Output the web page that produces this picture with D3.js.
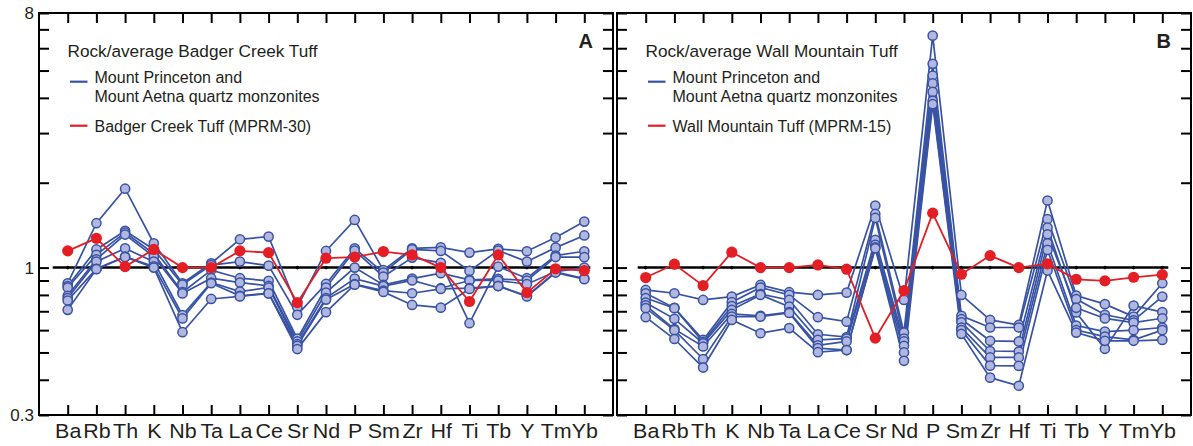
<!DOCTYPE html>
<html>
<head>
<meta charset="utf-8">
<script src="https://cdn.jsdelivr.net/npm/d3@7"></script>
<style>
  body { margin: 0; background: #fff; }
  svg { display: block; font-family: "Liberation Sans", Arial, Helvetica, sans-serif; }
</style>
</head>
<body>
<div id="chart"></div>
<script>
// Elementos del diagrama (eje X)
const elements = ["Ba", "Rb", "Th", "K", "Nb", "Ta", "La", "Ce", "Sr", "Nd", "P", "Sm", "Zr", "Hf", "Ti", "Tb", "Y", "Tm", "Yb"];

// Marcas del eje Y (logarítmico) y las que llevan etiqueta
const yTicks = [0.3, 0.4, 0.5, 0.6, 0.7, 0.8, 0.9, 1, 2, 3, 4, 5, 6, 7, 8];
const yLabels = [0.3, 1, 8];

// Panel A: monzonitas / Badger Creek Tuff
const blueA = [
  [0.88, 1.437, 1.905, 1.22, 0.88, 1.036, 1.26, 1.288, 0.724, 1.146, 1.476, 0.98, 1.17, 1.18, 1.13, 1.165, 1.143, 1.278, 1.456],
  [0.86, 1.16, 1.35, 1.16, 0.87, 1.02, 1.05, 1.016, 0.68, 0.875, 1.17, 0.96, 1.16, 1.146, 0.973, 1.15, 1.05, 1.177, 1.30],
  [0.85, 1.11, 1.33, 1.12, 0.818, 0.98, 0.917, 0.897, 0.56, 0.85, 1.15, 0.929, 1.085, 1.04, 0.635, 1.008, 0.917, 1.103, 1.143],
  [0.794, 1.07, 1.31, 1.094, 0.81, 0.917, 0.885, 0.861, 0.547, 0.815, 1.0, 0.868, 0.914, 0.955, 0.905, 0.912, 0.9, 1.09, 1.089],
  [0.78, 1.05, 1.17, 1.05, 0.678, 0.885, 0.822, 0.85, 0.535, 0.779, 0.914, 0.86, 0.9, 0.845, 0.9, 0.9, 0.873, 0.968, 1.0],
  [0.764, 0.99, 1.094, 1.01, 0.66, 0.88, 0.794, 0.811, 0.528, 0.77, 0.873, 0.829, 0.811, 0.84, 0.845, 0.861, 0.794, 0.965, 0.914],
  [0.708, 0.987, 1.09, 1.0, 0.59, 0.774, 0.79, 0.81, 0.514, 0.695, 0.87, 0.82, 0.737, 0.721, 0.84, 0.86, 0.79, 0.96, 0.91]
];
const redA = [1.146, 1.27, 1.008, 1.16, 1.0, 1.0, 1.146, 1.13, 0.751, 1.08, 1.089, 1.14, 1.109, 1.0, 0.758, 1.109, 0.815, 0.99, 0.976];

// Panel B: monzonitas / Wall Mountain Tuff
const blueB = [
  [0.833, 0.811, 0.768, 0.789, 0.868, 0.818, 0.80, 0.815, 1.66, 0.768, 6.65, 0.80, 0.652, 0.626, 1.73, 0.796, 0.742, 0.67, 0.88],
  [0.811, 0.72, 0.554, 0.754, 0.85, 0.80, 0.667, 0.643, 1.55, 0.588, 5.28, 0.674, 0.613, 0.613, 1.485, 0.773, 0.68, 0.65, 0.789],
  [0.78, 0.718, 0.545, 0.73, 0.806, 0.768, 0.58, 0.567, 1.50, 0.56, 4.8, 0.656, 0.55, 0.547, 1.386, 0.693, 0.515, 0.733, 0.695],
  [0.751, 0.658, 0.539, 0.708, 0.80, 0.727, 0.554, 0.56, 1.254, 0.547, 4.5, 0.64, 0.506, 0.504, 1.313, 0.72, 0.66, 0.638, 0.661],
  [0.735, 0.605, 0.525, 0.685, 0.674, 0.695, 0.53, 0.547, 1.204, 0.528, 4.2, 0.613, 0.48, 0.48, 1.22, 0.623, 0.593, 0.6, 0.613],
  [0.718, 0.60, 0.474, 0.67, 0.67, 0.69, 0.518, 0.51, 1.18, 0.5, 3.9, 0.6, 0.449, 0.448, 1.155, 0.6, 0.569, 0.554, 0.6],
  [0.667, 0.558, 0.442, 0.652, 0.585, 0.61, 0.501, 0.51, 1.17, 0.467, 3.8, 0.582, 0.407, 0.381, 0.976, 0.588, 0.55, 0.55, 0.554]
];
const redB = [0.922, 1.028, 0.863, 1.134, 1.0, 1.0, 1.022, 0.987, 0.562, 0.829, 1.56, 0.947, 1.103, 1.0, 1.031, 0.909, 0.897, 0.924, 0.944];

// Textos de cada panel
const panelLetters = ["A", "B"];
const panelTitles = ["Rock/average Badger Creek Tuff", "Rock/average Wall Mountain Tuff"];
const blueLegend = ["Mount Princeton and", "Mount Aetna quartz monzonites"];
const redLegends = ["Badger Creek Tuff (MPRM-30)", "Wall Mountain Tuff (MPRM-15)"];

// Dimensiones
const width = 1193, height = 446;
const plotTop = 13, plotBottom = 415;
const panelW = 574;
const panelLeft = [39, 617];

const blue = "#3953a4", blueFill = "#b1b7de", red = "#e31e24", ink = "#231f20";

const x = d3.scalePoint().domain(elements).range([0, panelW]).padding(1);
const y = d3.scaleLog().domain([0.3, 8]).range([plotBottom, plotTop]);

const svg = d3.select("#chart").append("svg")
  .attr("width", width)
  .attr("height", height)
  .attr("viewBox", [0, 0, width, height]);

function drawPanel(i, blueSeries, redSeries) {
  const g = svg.append("g").attr("transform", `translate(${panelLeft[i]},0)`);

  // Marcas: izquierda, derecha, arriba, abajo (todas hacia dentro)
  g.append("g")
    .call(d3.axisLeft(y).tickValues(yTicks).tickSize(-10).tickPadding(5)
      .tickFormat(d => (i === 0 && yLabels.includes(d)) ? d : ""))
    .call(g => g.select(".domain").remove())
    .call(g => g.selectAll("line").attr("stroke-width", 2))
    .call(g => g.selectAll("text").attr("font-size", 17).attr("fill", ink).attr("font-family", null));

  g.append("g")
    .attr("transform", `translate(${panelW},0)`)
    .call(d3.axisRight(y).tickValues(yTicks).tickSize(-10).tickFormat(""))
    .call(g => g.select(".domain").remove())
    .call(g => g.selectAll("line").attr("stroke-width", 2));

  g.append("g")
    .attr("transform", `translate(0,${plotTop})`)
    .call(d3.axisTop(x).tickSize(-10).tickFormat(""))
    .call(g => g.select(".domain").remove())
    .call(g => g.selectAll("line").attr("stroke-width", 2));

  // Etiquetas de elementos, algo ensanchadas como en el original
  g.append("g")
    .attr("transform", `translate(0,${plotBottom})`)
    .call(d3.axisBottom(x).tickSize(-10).tickPadding(9))
    .call(g => g.select(".domain").remove())
    .call(g => g.selectAll("line").attr("stroke-width", 2))
    .call(g => g.selectAll("text").attr("font-size", 19.5).attr("fill", ink)
      .attr("font-family", null).attr("transform", "scale(1.1,1)"));

  // Marco
  g.append("rect")
    .attr("x", 0).attr("y", plotTop)
    .attr("width", panelW).attr("height", plotBottom - plotTop)
    .attr("fill", "none").attr("stroke", "#000").attr("stroke-width", 2);

  // Línea de referencia en 1
  g.append("line")
    .attr("x1", x(elements[0]) - (i === 0 ? 15 : 8)).attr("x2", x(elements[elements.length - 1]) + 6)
    .attr("y1", y(1)).attr("y2", y(1))
    .attr("stroke", "#000").attr("stroke-width", 2.5);
  g.append("g").selectAll("circle")
    .data(elements)
    .join("circle")
    .attr("cx", d => x(d)).attr("cy", y(1)).attr("r", 1.8).attr("fill", "#000");

  const line = d3.line()
    .x((d, j) => x(elements[j]))
    .y(d => y(d));

  // Series azules
  g.append("g").selectAll("path")
    .data(blueSeries)
    .join("path")
    .attr("d", line)
    .attr("fill", "none").attr("stroke", blue).attr("stroke-width", 1.7);

  g.append("g").selectAll("g")
    .data(blueSeries)
    .join("g")
    .selectAll("circle")
    .data(d => d)
    .join("circle")
    .attr("cx", (d, j) => x(elements[j]))
    .attr("cy", d => y(d))
    .attr("r", 4.6)
    .attr("fill", blueFill).attr("stroke", blue).attr("stroke-width", 1.5);

  // Serie roja
  g.append("path")
    .datum(redSeries)
    .attr("d", line)
    .attr("fill", "none").attr("stroke", red).attr("stroke-width", 1.8);

  g.append("g").selectAll("circle")
    .data(redSeries)
    .join("circle")
    .attr("cx", (d, j) => x(elements[j]))
    .attr("cy", d => y(d))
    .attr("r", 5.6)
    .attr("fill", red);

  // Letra del panel
  g.append("text")
    .attr("x", panelW - 20).attr("y", 47.5)
    .attr("text-anchor", "end")
    .attr("font-size", 20).attr("font-weight", "bold").attr("fill", ink)
    .text(panelLetters[i]);

  // Título y leyenda
  const lx = 28.5;
  g.append("text")
    .attr("x", lx).attr("y", 57.3)
    .attr("font-size", 17.2).attr("fill", ink)
    .text(panelTitles[i]);

  g.append("line")
    .attr("x1", lx + 2.5).attr("x2", lx + 20)
    .attr("y1", 81.7).attr("y2", 81.7)
    .attr("stroke", blue).attr("stroke-width", 2.2);
  g.append("text")
    .attr("x", lx + 27).attr("y", 83.3)
    .attr("font-size", 16).attr("fill", ink)
    .text(blueLegend[0]);
  g.append("text")
    .attr("x", lx + 27).attr("y", 101.7)
    .attr("font-size", 16).attr("fill", ink)
    .text(blueLegend[1]);

  g.append("line")
    .attr("x1", lx + 2.5).attr("x2", lx + 20)
    .attr("y1", 125.7).attr("y2", 125.7)
    .attr("stroke", red).attr("stroke-width", 2.2);
  g.append("text")
    .attr("x", lx + 27).attr("y", 131.5)
    .attr("font-size", 16).attr("fill", ink)
    .text(redLegends[i]);
}

drawPanel(0, blueA, redA);
drawPanel(1, blueB, redB);
</script>
</body>
</html>
